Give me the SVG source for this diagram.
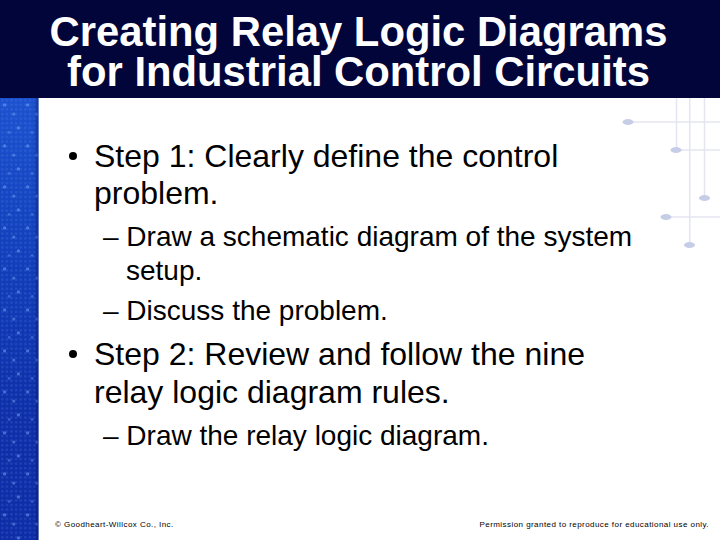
<svg xmlns="http://www.w3.org/2000/svg" width="720" height="540" viewBox="0 0 720 540">
<style>
text{font-family:"Liberation Sans",Arial,sans-serif;fill:#000}
.t{font-size:41.800px;font-weight:bold;fill:#fff;text-anchor:middle}
.b{font-size:32px}
.s{font-size:28px}
.f{font-size:8px;letter-spacing:.44px}
.l{stroke:#e3e5f0;stroke-width:1.500;fill:none}
.d{fill:#c6cde6}
</style>
<defs>
<linearGradient id="strip" x1="0" y1="0" x2="0" y2="1">
<stop offset="0" stop-color="#1c52cf"/>
<stop offset=".35" stop-color="#123fbb"/>
<stop offset=".7" stop-color="#0e2fa8"/>
<stop offset="1" stop-color="#0e2ca6"/>
</linearGradient>
<linearGradient id="edge" x1="0" y1="0" x2="1" y2="0">
<stop offset="0" stop-color="#0a1a80" stop-opacity="0"/>
<stop offset=".85" stop-color="#0a1a80" stop-opacity="0"/>
<stop offset="1" stop-color="#06124f" stop-opacity=".45"/>
</linearGradient>
<pattern id="fine" width="4.600" height="4.600" patternUnits="userSpaceOnUse" y="98">
<circle cx="2.300" cy="2.300" r="1.300" fill="#5f8ff0" opacity=".22"/>
</pattern>
<pattern id="dots" width="23" height="41" patternUnits="userSpaceOnUse" y="98">
<circle cx="4.600" cy="6.900" r="1.600" fill="#7fb0ff" opacity=".5"/>
<circle cx="13.800" cy="16.100" r="1.600" fill="#7fb0ff" opacity=".45"/>
<circle cx="18.400" cy="29.900" r="1.600" fill="#7fb0ff" opacity=".5"/>
<circle cx="9.200" cy="34.500" r="1.400" fill="#7fb0ff" opacity=".35"/>
</pattern>
</defs>
<rect width="720" height="540" fill="#fff"/>
<g id="strip-panel">
<rect x="0" y="98" width="38.500" height="442" fill="url(#strip)"/>
<rect x="0" y="98" width="38.500" height="442" fill="url(#fine)"/>
<rect x="0" y="98" width="38.500" height="442" fill="url(#dots)"/>
<rect x="0" y="98" width="38.500" height="442" fill="url(#edge)"/>
</g>
<g id="connectors">
<path class="l" d="M628 122H720M676 150H720M666 217H720M676.500 98V150M689.700 98V245M704.500 98V198"/>
</g>
<g id="node-dots">
<ellipse class="d" cx="628" cy="122" rx="5.500" ry="3"/>
<ellipse class="d" cx="676" cy="150" rx="5.500" ry="3"/>
<ellipse class="d" cx="704.500" cy="198" rx="5.500" ry="3"/>
<ellipse class="d" cx="666" cy="217" rx="5.500" ry="3"/>
<ellipse class="d" cx="689.500" cy="245" rx="5.500" ry="3"/>
</g>
<g id="title">
<rect width="720" height="98" fill="#01053a"/>
<text class="t" x="358.500" y="46">Creating Relay Logic Diagrams</text>
<text class="t" x="358.500" y="86">for Industrial Control Circuits</text>
</g>
<g id="body">
<circle cx="73" cy="156" r="4" fill="#000"/>
<text class="b" x="94" y="167">Step 1: Clearly define the control</text>
<text class="b" x="94" y="204">problem.</text>
<text class="s" x="103" y="246">– Draw a schematic diagram of the system</text>
<text class="s" x="126" y="280">setup.</text>
<text class="s" x="103" y="320">– Discuss the problem.</text>
<circle cx="73" cy="354" r="4" fill="#000"/>
<text class="b" x="94" y="365">Step 2: Review and follow the nine</text>
<text class="b" x="94" y="403">relay logic diagram rules.</text>
<text class="s" x="103" y="445">– Draw the relay logic diagram.</text>
</g>
<g id="footer">
<text class="f" x="55" y="527">© Goodheart-Willcox Co., Inc.</text>
<text class="f" x="709" y="527" text-anchor="end">Permission granted to reproduce for educational use only.</text>
</g>
</svg>
